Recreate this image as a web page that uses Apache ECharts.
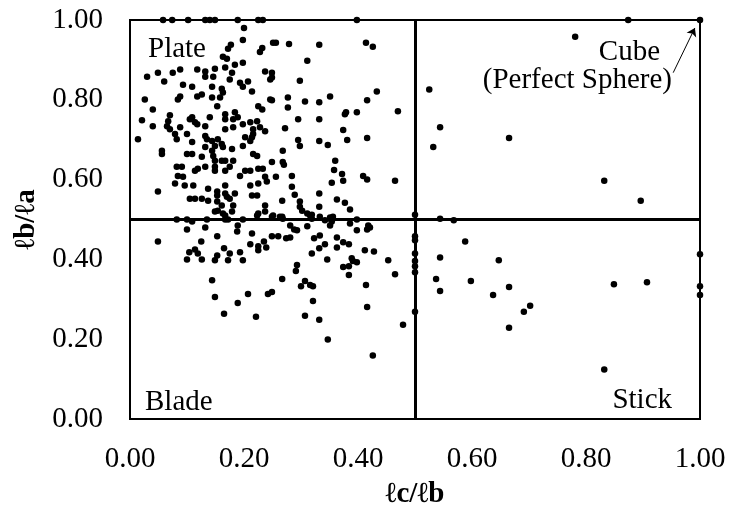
<!DOCTYPE html>
<html>
<head>
<meta charset="utf-8">
<script src="https://cdn.jsdelivr.net/npm/echarts@6/dist/echarts.min.js"></script>
<style>
html,body{margin:0;padding:0;background:#fff;}
#chart{width:729px;height:514px;}
</style>
</head>
<body>
<div id="chart"></div>
<script>
// ℓc/ℓb (x) and ℓb/ℓa (y) pairs, grouped by shape class
const platePoints = [
[0.058,1],[0.074,1],[0.102,1],[0.132,1],[0.140,1],[0.149,1],[0.189,1],[0.225,1],[0.233,1],[0.398,1],
[0.200,0.980],[0.198,0.950],[0.177,0.938],[0.172,0.928],[0.232,0.930],[0.228,0.920],[0.251,0.943],[0.163,0.908],[0.170,0.903],[0.184,0.888],[0.198,0.893],
[0.030,0.858],[0.049,0.868],[0.075,0.868],[0.088,0.876],[0.118,0.876],[0.132,0.871],[0.132,0.858],[0.146,0.858],[0.149,0.878],[0.167,0.881],[0.179,0.868],[0.175,0.851],
[0.060,0.846],[0.093,0.838],[0.109,0.833],[0.144,0.833],[0.161,0.828],[0.193,0.843],[0.207,0.846],[0.198,0.833],[0.214,0.821],[0.237,0.871],[0.246,0.851],
[0.026,0.801],[0.084,0.801],[0.088,0.808],[0.118,0.808],[0.126,0.813],[0.144,0.806],[0.158,0.806],[0.163,0.818],[0.153,0.784],[0.225,0.784],[0.232,0.776],[0.246,0.801],
[0.040,0.776],[0.070,0.761],[0.109,0.756],[0.140,0.756],[0.167,0.764],[0.184,0.769],
[0.256,0.943],[0.279,0.940],[0.332,0.938],[0.414,0.943],[0.426,0.933],[0.311,0.898],[0.249,0.868],[0.249,0.856],[0.298,0.848],[0.249,0.799],[0.277,0.806],[0.277,0.781],
[0.307,0.796],[0.332,0.794],[0.351,0.808],[0.416,0.799],[0.433,0.821],[0.379,0.769],[0.398,0.769],[0.470,0.771],[0.295,0.751],[0.332,0.751],
[0.021,0.749],[0.040,0.734],[0.067,0.746],[0.065,0.734],[0.070,0.726],[0.079,0.714],[0.082,0.701],[0.088,0.731],[0.100,0.714],[0.105,0.751],[0.114,0.744],[0.118,0.739],
[0.132,0.734],[0.167,0.751],[0.181,0.751],[0.189,0.756],[0.198,0.739],[0.211,0.744],[0.223,0.746],[0.228,0.731],[0.216,0.726],[0.237,0.721],[0.167,0.726],[0.181,0.731],
[0.014,0.701],[0.056,0.672],[0.056,0.664],[0.109,0.694],[0.132,0.709],[0.135,0.701],[0.144,0.697],[0.154,0.701],[0.149,0.684],[0.163,0.682],[0.161,0.689],[0.179,0.677],
[0.198,0.684],[0.202,0.706],[0.214,0.706],[0.216,0.714],[0.211,0.697],[0.132,0.682],[0.144,0.672],[0.100,0.664],[0.109,0.664],[0.126,0.657],[0.146,0.659],[0.149,0.647],
[0.161,0.647],[0.167,0.647],[0.181,0.647],[0.216,0.664],[0.223,0.659],[0.249,0.644],
[0.082,0.632],[0.091,0.632],[0.084,0.609],[0.093,0.607],[0.079,0.590],[0.114,0.622],[0.119,0.627],[0.132,0.632],[0.149,0.632],[0.149,0.622],[0.167,0.622],[0.175,0.632],
[0.193,0.609],[0.202,0.622],[0.211,0.622],[0.225,0.627],[0.233,0.627],[0.237,0.607],[0.240,0.595],
[0.049,0.570],[0.096,0.585],[0.111,0.585],[0.137,0.577],[0.153,0.570],[0.153,0.560],[0.167,0.585],[0.167,0.565],[0.170,0.557],[0.184,0.565],[0.211,0.585],[0.225,0.590],
[0.214,0.560],[0.223,0.560],[0.105,0.552],[0.114,0.552],[0.126,0.552],[0.137,0.547],[0.153,0.545],[0.161,0.535],[0.175,0.552],[0.181,0.535],[0.237,0.535],
[0.149,0.520],[0.154,0.522],[0.163,0.515],[0.179,0.520],[0.225,0.515],[0.237,0.520],
[0.377,0.764],[0.272,0.729],[0.374,0.724],[0.295,0.699],[0.298,0.684],[0.332,0.697],[0.347,0.687],[0.381,0.699],[0.416,0.704],[0.268,0.672],[0.268,0.644],[0.270,0.637],
[0.256,0.607],[0.284,0.609],[0.360,0.647],[0.358,0.624],[0.372,0.614],[0.374,0.597],[0.354,0.592],[0.409,0.609],[0.416,0.600],[0.465,0.597],[0.284,0.582],[0.289,0.562],
[0.267,0.547],[0.298,0.545],[0.298,0.532],[0.302,0.522],[0.311,0.515],[0.319,0.512],[0.332,0.565],[0.332,0.532],[0.363,0.550],[0.377,0.542],[0.386,0.525],
[0.251,0.510],[0.267,0.507],[0.333,0.507],[0.351,0.505],[0.356,0.507],[0.398,0.500],
[0.082,0.500],[0.100,0.500],[0.135,0.500],[0.167,0.510],[0.167,0.500],[0.172,0.500],[0.198,0.500],[0.223,0.510],[0.249,0.507],
[0.263,0.507],[0.268,0.502],[0.316,0.510],[0.319,0.502],[0.351,0.502]
];
const bladePoints = [
[0.109,0.495],[0.342,0.498],[0.354,0.495],[0.351,0.485],[0.386,0.490],[0.418,0.485],[0.421,0.480],[0.416,0.475],[0.398,0.473],[0.281,0.485],[0.288,0.475],[0.293,0.473],
[0.311,0.483],[0.260,0.458],[0.274,0.453],[0.281,0.455],[0.323,0.453],[0.333,0.460],[0.363,0.455],[0.374,0.443],[0.384,0.438],[0.332,0.428],[0.342,0.438],[0.363,0.430],
[0.319,0.415],[0.412,0.423],[0.428,0.420],[0.346,0.400],[0.293,0.386],[0.291,0.371],[0.389,0.403],[0.391,0.396],[0.398,0.393],[0.374,0.381],[0.384,0.383],[0.384,0.361],
[0.453,0.398],[0.465,0.363],[0.267,0.351],[0.307,0.346],[0.300,0.333],[0.316,0.336],[0.321,0.333],[0.414,0.336],[0.321,0.296],[0.416,0.281],[0.307,0.259],[0.332,0.249],
[0.100,0.475],[0.132,0.480],[0.189,0.485],[0.188,0.470],[0.049,0.445],[0.125,0.445],[0.153,0.458],[0.214,0.465],[0.249,0.458],[0.211,0.438],[0.225,0.433],[0.225,0.423],
[0.235,0.445],[0.239,0.430],[0.104,0.418],[0.114,0.425],[0.119,0.415],[0.100,0.400],[0.126,0.400],[0.153,0.410],[0.149,0.398],[0.165,0.428],[0.175,0.415],[0.172,0.398],
[0.193,0.418],[0.198,0.398],[0.144,0.348],[0.149,0.306],[0.189,0.291],[0.207,0.313],[0.242,0.313],[0.249,0.318],[0.165,0.264],[0.221,0.256],
[0.347,0.199],[0.426,0.159],[0.479,0.236]
];
const stickPoints = [
[0.5,0.512],[0.5,0.458],[0.5,0.448],[0.5,0.415],[0.5,0.396],[0.5,0.383],[0.5,0.368],[0.5,0.269],
[0.568,0.498],[0.588,0.445],[0.544,0.405],[0.647,0.398],[0.537,0.351],[0.544,0.321],[0.598,0.346],[0.637,0.311],[0.665,0.331],[0.691,0.269],[0.702,0.284],[0.665,0.229],
[0.849,0.338],[0.907,0.343],[0.832,0.124],[1.0,0.413],[1.0,0.333],[1.0,0.311]
];
const cubePoints = [
[0.874,1],[1,1],[0.781,0.958],[0.525,0.826],[0.544,0.731],[0.532,0.682],[0.665,0.704],[0.832,0.597],[0.896,0.547],[0.544,0.502]
];
const axisTicks = [0, 0.2, 0.4, 0.6, 0.8, 1.0];
const dividers = [0.5];
const arrowStart = [0.953, 0.868];
const arrowEnd = [0.991, 0.980];

const FONT = '"Liberation Serif", "Times New Roman", "DejaVu Serif", serif';
const chart = echarts.init(document.getElementById('chart'), null, {renderer: 'canvas'});

function dots(data) {
  return {
    type: 'scatter', data: data, symbol: 'circle', symbolSize: 6.5,
    itemStyle: {color: '#000', opacity: 1}, z: 5, silent: true, clip: false
  };
}
const axisCommon = {
  type: 'value', min: axisTicks[0], max: axisTicks[axisTicks.length - 1],
  interval: axisTicks[1] - axisTicks[0],
  axisLine: {show: false}, axisTick: {show: false}, splitLine: {show: false},
  nameLocation: 'middle',
  nameTextStyle: {fontFamily: FONT, fontSize: 29, fontWeight: 'bold', color: '#000'},
  axisLabel: {fontFamily: FONT, fontSize: 29, color: '#000', formatter: v => v.toFixed(2)}
};

const option = {
  animation: false,
  grid: {left: 130, right: 29, top: 20, bottom: 92, show: true, borderColor: '#000', borderWidth: 2, backgroundColor: 'transparent'},
  xAxis: Object.assign({}, axisCommon, {name: 'ℓc/ℓb', nameGap: 61, axisLabel: Object.assign({}, axisCommon.axisLabel, {margin: 26})}),
  yAxis: Object.assign({}, axisCommon, {name: 'ℓb/ℓa', nameGap: 84, axisLabel: Object.assign({}, axisCommon.axisLabel, {margin: 27})}),
  series: [
    Object.assign(dots(platePoints), {
      markLine: {
        silent: true, symbol: 'none', animation: false, z: 3,
        label: {show: false},
        lineStyle: {color: '#000', width: 3, type: 'solid'},
        data: [{xAxis: dividers[0]}, {yAxis: dividers[0]}]
      }
    }),
    dots(bladePoints),
    dots(stickPoints),
    Object.assign(dots(cubePoints), {
      markLine: {
        silent: true, animation: false, symbol: ['none', 'arrow'], symbolSize: 8, z: 6,
        label: {show: false},
        lineStyle: {color: '#000', width: 1, type: 'solid'},
        data: [[{coord: arrowStart}, {coord: arrowEnd}]]
      }
    })
  ],
  graphic: [
    {type: 'text', x: 148, y: 49, style: {text: 'Plate', font: '29px ' + FONT, fill: '#000', textAlign: 'left', textVerticalAlign: 'middle', align: 'left', verticalAlign: 'middle'}},
    {type: 'text', x: 145, y: 402, style: {text: 'Blade', font: '29px ' + FONT, fill: '#000', textAlign: 'left', textVerticalAlign: 'middle', align: 'left', verticalAlign: 'middle'}},
    {type: 'text', x: 672, y: 400, style: {text: 'Stick', font: '29px ' + FONT, fill: '#000', textAlign: 'right', textVerticalAlign: 'middle', align: 'right', verticalAlign: 'middle'}},
    {type: 'text', x: 660, y: 52, style: {text: 'Cube', font: '29px ' + FONT, fill: '#000', textAlign: 'right', textVerticalAlign: 'middle', align: 'right', verticalAlign: 'middle'}},
    {type: 'text', x: 672, y: 80, style: {text: '(Perfect Sphere)', font: '29px ' + FONT, fill: '#000', textAlign: 'right', textVerticalAlign: 'middle', align: 'right', verticalAlign: 'middle'}}
  ]
};
chart.setOption(option);
</script>
</body>
</html>
